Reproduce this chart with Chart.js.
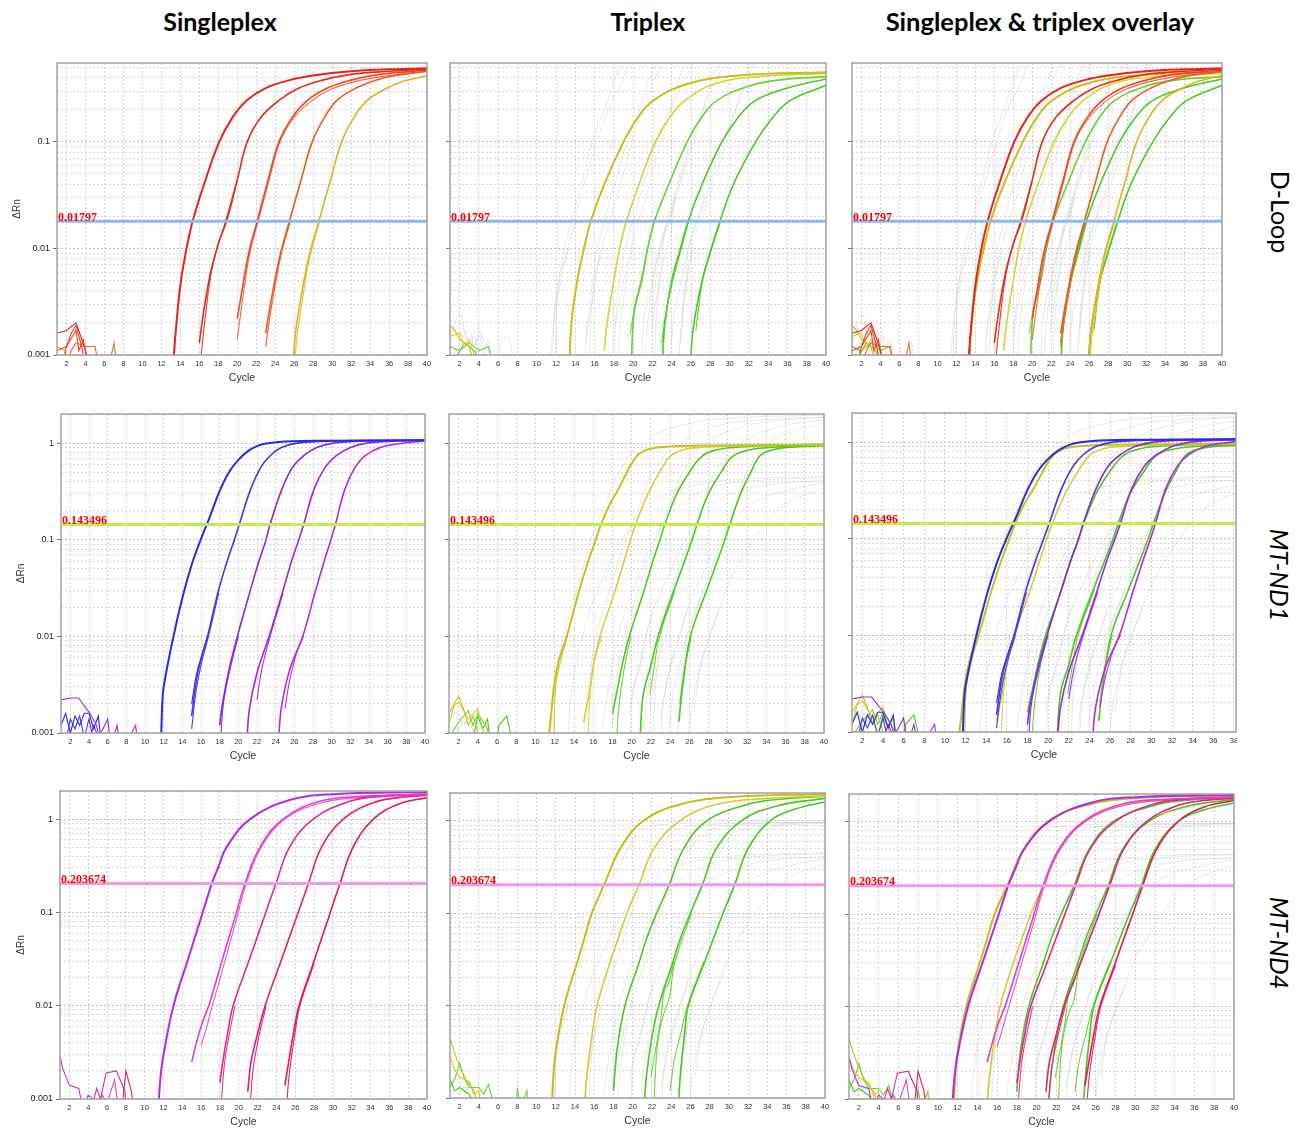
<!DOCTYPE html>
<html>
<head>
<meta charset="utf-8">
<title>Singleplex vs triplex amplification plots</title>
<script src="https://cdn.jsdelivr.net/npm/chart.js@4.4.1/dist/chart.umd.min.js"></script>
<style>
  body { margin: 0; width: 1295px; height: 1128px; background: #fff; position: relative; overflow: hidden; }
  .head { position: absolute; top: 6px; font: bold 25px Lato, sans-serif; color: #000; transform: translateX(-50%); white-space: nowrap; }
  .side { position: absolute; font: 25px Lato, sans-serif; color: #000; transform: translate(-50%, -50%) rotate(90deg); white-space: nowrap; }
  .side.it { font-style: italic; }
  canvas { position: absolute; }
</style>
</head>
<body>
<div class="head" style="left:220px">Singleplex</div>
<div class="head" style="left:648px">Triplex</div>
<div class="head" style="left:1040px;font-size:25.5px">Singleplex &amp; triplex overlay</div>
<div class="side" style="left:1281px;top:212px">D-Loop</div>
<div class="side it" style="left:1280px;top:575px">MT-ND1</div>
<div class="side it" style="left:1280px;top:943px">MT-ND4</div>
<script>
Chart.defaults.font.family = '"Liberation Sans", Arial, sans-serif'

// axis ticks
const cycleTicks = [2, 4, 6, 8, 10, 12, 14, 16, 18, 20, 22, 24, 26, 28, 30, 32, 34, 36, 38, 40]
const decadeTicks = [0.001, 0.01, 0.1, 1]
const dloopGrid = [0.001, 0.002, 0.003, 0.004, 0.005, 0.006, 0.007, 0.008, 0.009,
    0.01, 0.02, 0.03, 0.04, 0.05, 0.06, 0.07, 0.08, 0.09, 0.1, 0.2, 0.3, 0.4, 0.5]
const ndGrid = [0.001, 0.002, 0.003, 0.004, 0.005, 0.006, 0.007, 0.008, 0.009,
    0.01, 0.02, 0.03, 0.04, 0.05, 0.06, 0.07, 0.08, 0.09,
    0.1, 0.2, 0.3, 0.4, 0.5, 0.6, 0.7, 0.8, 0.9, 1, 2]

// thresholds
const dloopThreshold = 0.01797
const nd1Threshold = 0.143496
const nd4Threshold = 0.203674

// ---- D-Loop singleplex: 5 dilutions [cycle, dRn], then replicate traces ----
const dloopSingle = [
    [[13.2, 0.0007], [13.5, 0.0016], [14, 0.0045], [14.6, 0.0095], [15.3, 0.018], [16.5, 0.04], [18.1, 0.1], [19.5, 0.17], [21, 0.245], [23, 0.32], [25.5, 0.38], [28, 0.42], [32, 0.46], [36, 0.48], [40, 0.49]],
    [[16, 0.0013], [16.5, 0.0027], [17.2, 0.006], [18, 0.011], [18.8, 0.018], [20, 0.044], [21.05, 0.1], [22.5, 0.17], [24.4, 0.245], [26.5, 0.32], [29, 0.38], [32, 0.43], [36, 0.46], [40, 0.48]],
    [[20, 0.0022], [20.5, 0.004], [21.2, 0.009], [22.1, 0.018], [23.2, 0.042], [24.4, 0.1], [25.8, 0.17], [27.4, 0.245], [29.5, 0.32], [32, 0.38], [35, 0.43], [40, 0.47]],
    [[23, 0.0016], [23.5, 0.003], [24.5, 0.0085], [25.5, 0.018], [26.7, 0.043], [27.9, 0.1], [29.2, 0.17], [30.5, 0.245], [32.5, 0.32], [35, 0.39], [37.5, 0.43], [40, 0.46]],
    [[25.85, 0.0007], [26.1, 0.0015], [26.6, 0.003], [27.5, 0.008], [28.6, 0.018], [29.8, 0.043], [31, 0.1], [32.3, 0.17], [33.7, 0.245], [35.5, 0.31], [37.5, 0.37], [40, 0.42]],
    [[16.1, 0.0008], [16.5, 0.0018], [17.2, 0.0055], [18, 0.011], [18.9, 0.018], [20, 0.043]],
    [[20, 0.0014], [20.6, 0.0035], [21.3, 0.0088], [22.2, 0.018], [23.3, 0.042], [24.5, 0.1], [25.9, 0.165], [27.6, 0.235], [29.8, 0.31], [32.5, 0.37], [36, 0.42], [40, 0.46]],
    [[23, 0.0012], [23.6, 0.0028], [24.6, 0.0085], [25.6, 0.018]],
    [[26, 0.0007], [26.3, 0.0015], [26.8, 0.003], [27.6, 0.008], [28.7, 0.018]]
]
const dloopSingleColors = ['#e8221a', '#e42c1c', '#ec4626', '#ec5a1e', '#e2b022', '#e63a22', '#f06a48', '#ee6428', '#e8bc30']
const dloopSingleNoise = [
    [[1, 0.0016], [2, 0.0017], [3, 0.002], [3.5, 0.0015], [4, 0.0011], [4.4, 0.0008]],
    [[1, 0.0011], [2, 0.0012], [2.5, 0.0016], [3, 0.0019], [3.6, 0.0012], [4, 0.0008]],
    [[1.5, 0.0008], [2, 0.0012], [3, 0.0017], [3.3, 0.0011], [3.8, 0.0014], [4.2, 0.0008]],
    [[2, 0.0008], [2.5, 0.0011], [3, 0.0013], [4, 0.0012], [5, 0.0012], [5.4, 0.0008]],
    [[6.5, 0.0008], [7, 0.0013], [7.3, 0.0008]],
    [[1, 0.0012], [1.8, 0.0011], [2.4, 0.0008]]
]
const dloopSingleNoiseColors = ['#e8221a', '#ec3a20', '#f04a24', '#f06028', '#f07030', '#e0b020']

// ---- D-Loop triplex ----
const dloopTriplex = [
    [[13.35, 0.0007], [13.6, 0.002], [14.2, 0.005], [14.9, 0.01], [15.6, 0.018], [17, 0.04], [19, 0.1], [20.5, 0.17], [22.1, 0.245], [25.6, 0.35], [31, 0.42], [40, 0.45]],
    [[17, 0.0011], [17.3, 0.002], [18, 0.005], [18.6, 0.01], [19.3, 0.018], [20.6, 0.04], [22.3, 0.1], [23.8, 0.17], [25.4, 0.245], [28.4, 0.35], [33, 0.41], [40, 0.44]],
    [[19.8, 0.0008], [20.1, 0.0025], [20.9, 0.005], [21.5, 0.01], [22.2, 0.018], [23.7, 0.04], [25.6, 0.1], [27.1, 0.17], [28.7, 0.245], [31.8, 0.33], [35, 0.38], [40, 0.41]],
    [[23, 0.0008], [23.3, 0.002], [24, 0.005], [24.9, 0.01], [25.7, 0.018], [27.15, 0.04], [29.2, 0.1], [30.9, 0.17], [32.7, 0.245], [36, 0.32], [40, 0.39]],
    [[25.95, 0.0008], [26.2, 0.0017], [27.15, 0.005], [28.1, 0.01], [29, 0.018], [30.4, 0.04], [32.7, 0.1], [34.5, 0.17], [36.3, 0.245], [40, 0.34]],
    [[19.7, 0.0016], [20.2, 0.003], [20.9, 0.0055], [21.5, 0.01], [22.2, 0.018]],
    [[22.95, 0.0013], [23.4, 0.0025], [24.1, 0.005], [25, 0.01], [25.75, 0.018]],
    [[26.5, 0.0017], [27.2, 0.005], [28.15, 0.01], [29.05, 0.018]]
]
const dloopTriplexColors = ['#c8c018', '#d6d232', '#66d236', '#44cc20', '#44cc20', '#7ad84a', '#5ad034', '#5ad034']
const dloopTriplexNoise = [
    [[1, 0.0019], [1.5, 0.0017], [2, 0.0014], [3, 0.0012], [3.5, 0.0008]],
    [[1, 0.0015], [2, 0.0016], [2.5, 0.0012], [3, 0.0014], [3.8, 0.0008]],
    [[1, 0.0012], [2, 0.0011], [3, 0.0013], [4, 0.0011], [5, 0.0012], [5.4, 0.0008]],
    [[1.5, 0.0009], [2.5, 0.0013], [3.5, 0.0011], [4.5, 0.0008]]
]
const dloopTriplexNoiseColors = ['#c8c018', '#d6d232', '#6ad43a', '#44cc20']

// ---- MT-ND1 singleplex ----
const nd1Single = [
    [[11.7, 0.0007], [11.85, 0.002], [12, 0.003], [13, 0.0095], [14, 0.025], [15, 0.055], [16, 0.102], [17, 0.178], [18, 0.32], [19, 0.5], [20, 0.67], [21, 0.82], [22, 0.93], [23, 0.99], [25, 1.04], [30, 1.06], [40, 1.07]],
    [[15, 0.0015], [15.5, 0.0035], [16, 0.0058], [16.7, 0.01], [17.8, 0.028], [18.8, 0.06], [19.5, 0.095], [20.1, 0.1435], [21.3, 0.33], [22.4, 0.56], [23.4, 0.74], [24.6, 0.9], [26.3, 1.0], [30, 1.05], [40, 1.07]],
    [[18, 0.0012], [18.3, 0.002], [19, 0.0045], [19.9, 0.01], [21.2, 0.028], [22.2, 0.06], [22.9, 0.095], [23.4, 0.1435], [24.65, 0.33], [25.8, 0.56], [27, 0.74], [28.4, 0.9], [30.2, 1.0], [34, 1.05], [40, 1.07]],
    [[20.9, 0.0008], [21.2, 0.0018], [22, 0.0042], [23.3, 0.01], [24.7, 0.028], [25.7, 0.06], [26.4, 0.095], [27, 0.1435], [28.1, 0.33], [29.3, 0.56], [30.5, 0.74], [32, 0.9], [33.75, 1.0], [37, 1.05], [40, 1.07]],
    [[24.3, 0.0008], [24.6, 0.0018], [25.5, 0.0045], [26.9, 0.01], [28.2, 0.028], [29.2, 0.06], [29.85, 0.095], [30.4, 0.1435], [31.4, 0.33], [32.5, 0.56], [33.6, 0.74], [35.2, 0.9], [37, 0.98], [40, 1.05]],
    [[15, 0.0011], [15.5, 0.0028], [16.1, 0.0055], [16.8, 0.01], [17.9, 0.028]],
    [[15, 0.002], [15.5, 0.004], [16, 0.006], [16.7, 0.01]],
    [[18.1, 0.0008], [18.4, 0.002], [19.1, 0.0045], [20, 0.01]],
    [[22, 0.0022], [22.5, 0.0045], [23.4, 0.01], [24.8, 0.028]],
    [[25, 0.0018], [25.5, 0.0035], [26.3, 0.007], [27, 0.01]]
]
const nd1SingleColors = ['#2a2ae6', '#4a30e6', '#8626e6', '#9c26e6', '#b428e2', '#5a3ae8', '#3a30e6', '#9030e6', '#a630e6', '#b832e2']
const nd1SingleNoise = [
    [[1, 0.0022], [2, 0.0023], [2.9, 0.0023], [3.5, 0.0019], [4.1, 0.0016], [4.8, 0.0012], [5.2, 0.0008]],
    [[1, 0.0012], [1.5, 0.0016], [2, 0.001], [2.5, 0.0015], [3, 0.0012], [3.5, 0.0016], [4, 0.0016], [4.5, 0.0011], [5, 0.0015], [5.3, 0.0008]],
    [[1.5, 0.0008], [2, 0.0014], [2.5, 0.0011], [3, 0.0015], [3.5, 0.0009], [4, 0.0014], [4.5, 0.0008]],
    [[4, 0.0008], [4.5, 0.0012], [5, 0.0009], [5.5, 0.0011], [6, 0.0014], [6.3, 0.0008]],
    [[6.5, 0.0008], [7, 0.0012], [7.3, 0.0008]],
    [[8, 0.0008], [9, 0.0012], [9.2, 0.0008]]
]
const nd1SingleNoiseColors = ['#a028e2', '#2a2ae6', '#4040e8', '#8a28e6', '#9c26e6', '#b428e2']

// ---- MT-ND1 triplex ----
const nd1Triplex = [
    [[11.3, 0.0008], [11.6, 0.0015], [12, 0.0035], [12.5, 0.006], [13.25, 0.01], [14.55, 0.03], [15.5, 0.061], [16.2, 0.096], [16.8, 0.1435], [17.7, 0.23], [18.6, 0.33], [19.5, 0.5], [20.5, 0.73], [21.5, 0.85], [22.6, 0.9], [26, 0.94], [40, 0.96]],
    [[15, 0.0013], [15.7, 0.003], [16, 0.005], [16.7, 0.01], [18.3, 0.03], [19.2, 0.06], [19.8, 0.094], [20.4, 0.1435], [21.2, 0.23], [21.9, 0.33], [22.9, 0.5], [24, 0.73], [25.3, 0.85], [27, 0.9], [32, 0.94], [40, 0.96]],
    [[18, 0.0016], [18.4, 0.0025], [19, 0.005], [19.75, 0.01], [21.3, 0.03], [22.2, 0.06], [22.85, 0.094], [23.45, 0.1435], [24.2, 0.23], [24.9, 0.33], [26, 0.5], [27.3, 0.73], [28.8, 0.85], [30.5, 0.9], [34, 0.94], [40, 0.97]],
    [[20.85, 0.0008], [21.2, 0.0025], [22, 0.005], [22.75, 0.01], [24.4, 0.03], [25.5, 0.06], [26.2, 0.094], [26.8, 0.1435], [27.5, 0.23], [28.2, 0.33], [29.3, 0.5], [30.5, 0.73], [32.2, 0.85], [34.3, 0.9], [37, 0.94], [40, 0.96]],
    [[24.9, 0.0013], [25.3, 0.003], [26.1, 0.01], [27.8, 0.03], [28.9, 0.06], [29.6, 0.094], [30.2, 0.1435], [30.9, 0.23], [31.5, 0.33], [32.4, 0.5], [33.3, 0.73], [34.6, 0.85], [36.1, 0.9], [40, 0.94]],
    [[11.9, 0.0008], [12.1, 0.003], [12.6, 0.0055], [13.3, 0.01]],
    [[15.4, 0.0008], [15.8, 0.0035], [16.3, 0.0065], [16.9, 0.01]],
    [[18.4, 0.0008], [18.7, 0.002], [19.2, 0.0045], [19.9, 0.01]],
    [[21.9, 0.0025], [22.3, 0.0045], [22.9, 0.01], [24.5, 0.03]],
    [[25, 0.002], [25.4, 0.004], [26.2, 0.01]]
]
const nd1TriplexColors = ['#c8c01c', '#d2cf3a', '#4cc81e', '#4cc81e', '#4cc81e', '#d0c830', '#d8d44a', '#6ad43a', '#6ad43a', '#6ad43a']
const nd1TriplexNoise = [
    [[1, 0.0016], [2, 0.0024], [2.5, 0.0018], [3, 0.0012], [3.5, 0.0015], [4, 0.001], [4.5, 0.0008]],
    [[1, 0.0012], [1.5, 0.0019], [2, 0.0021], [3, 0.0014], [4, 0.0018], [4.5, 0.0011], [5, 0.0008]],
    [[1, 0.0009], [2, 0.0013], [3, 0.0017], [3.5, 0.0012], [4, 0.0016], [5, 0.0011], [5.2, 0.0008]],
    [[3.5, 0.0009], [4, 0.0015], [4.5, 0.0011], [5, 0.0014], [5.3, 0.0008]],
    [[6, 0.0009], [6.2, 0.0012], [7, 0.0015], [7.6, 0.0008]]
]
const nd1TriplexNoiseColors = ['#c8c01c', '#d2cf3a', '#6ad43a', '#4cc81e', '#4cc81e']

// ---- MT-ND4 singleplex ----
const nd4Single = [
    [[11.45, 0.0008], [11.7, 0.0018], [12, 0.003], [13.06, 0.01], [14.65, 0.0325], [15.4, 0.0566], [16.25, 0.106], [17.13, 0.2037], [17.9, 0.32], [18.7, 0.5], [21.2, 1.0], [25.4, 1.6], [30, 1.85], [40, 1.95]],
    [[15, 0.0025], [15.5, 0.004], [16.1, 0.0065], [16.8, 0.01], [18, 0.0255], [18.8, 0.0478], [19.6, 0.089], [20.66, 0.2037], [22.25, 0.5], [24.7, 1.0], [28.6, 1.55], [33, 1.75], [40, 1.85]],
    [[18, 0.0015], [18.3, 0.0025], [18.8, 0.005], [19.4, 0.01], [21, 0.0288], [22, 0.056], [23, 0.109], [23.95, 0.2037], [25.4, 0.5], [27.9, 1.0], [31.8, 1.55], [35, 1.75], [40, 1.85]],
    [[20.95, 0.0012], [21.3, 0.0025], [22, 0.005], [22.8, 0.01], [24.4, 0.0285], [25.3, 0.0515], [26.3, 0.099], [27.4, 0.2037], [28.8, 0.5], [31.1, 1.0], [34.3, 1.5], [37, 1.7], [40, 1.8]],
    [[24.9, 0.0014], [25.3, 0.0025], [25.8, 0.005], [26.4, 0.01], [27.9, 0.0282], [28.8, 0.0527], [29.7, 0.098], [30.75, 0.2037], [32.15, 0.5], [34.3, 1.0], [37, 1.45], [40, 1.7]],
    [[16, 0.0037], [16.5, 0.0055], [17, 0.0085], [18.2, 0.023], [19, 0.045], [19.8, 0.088], [20.8, 0.2037], [22.4, 0.5], [24.9, 1.0], [28.8, 1.5], [33, 1.7], [40, 1.8]],
    [[18.1, 0.0008], [18.5, 0.0025], [19, 0.005], [19.6, 0.01]],
    [[21.2, 0.0008], [21.5, 0.002], [22.1, 0.0045], [22.9, 0.01]],
    [[25.05, 0.0008], [25.4, 0.002], [25.9, 0.0045], [26.5, 0.01], [28, 0.0282]]
]
const nd4SingleColors = ['#b428e8', '#e040c8', '#e0288c', '#e01e78', '#e0185c', '#e858c8', '#e43a98', '#e42c84', '#e42a6a']
const nd4SingleNoise = [
    [[1, 0.0029], [1.3, 0.0021], [2, 0.0014], [3, 0.0013], [3.4, 0.0008]],
    [[4.5, 0.0009], [4.9, 0.0013], [5.3, 0.001], [5.9, 0.0019], [7, 0.002], [7.9, 0.0012], [8, 0.0008]],
    [[7.6, 0.0008], [8, 0.002], [8.6, 0.0012], [8.8, 0.0008]],
    [[5, 0.0008], [5.5, 0.0011], [6, 0.0009], [6.8, 0.0016], [7.2, 0.0008]],
    [[3.5, 0.0008], [4, 0.0011], [4.5, 0.001], [5, 0.0008]]
]
const nd4SingleNoiseColors = ['#c030e0', '#e02a8c', '#e01e78', '#e040c8', '#c030e0']

// ---- MT-ND4 triplex ----
const nd4Triplex = [
    [[11.6, 0.0008], [11.8, 0.002], [12, 0.0032], [12.88, 0.01], [14.26, 0.03], [15, 0.0545], [15.75, 0.1], [17.03, 0.2037], [18.7, 0.5], [21.1, 1.0], [24.9, 1.5], [30, 1.8], [40, 1.95]],
    [[15, 0.0009], [15.3, 0.002], [15.8, 0.005], [16.3, 0.01], [17.66, 0.03], [18.4, 0.05], [19.4, 0.1], [20.67, 0.2037], [22.2, 0.5], [24.9, 1.0], [28.7, 1.5], [34, 1.75], [40, 1.85]],
    [[18, 0.0012], [18.4, 0.0035], [19.2, 0.01], [20.7, 0.03], [21.5, 0.055], [22.5, 0.1], [23.8, 0.2037], [25.3, 0.5], [27.7, 1.0], [31.9, 1.5], [35, 1.7], [40, 1.85]],
    [[21.2, 0.0009], [21.5, 0.002], [22, 0.0045], [22.7, 0.01], [24.2, 0.03], [25, 0.055], [26, 0.1], [27.25, 0.2037], [28.7, 0.5], [31.3, 1.0], [35, 1.45], [40, 1.75]],
    [[24.75, 0.0009], [25, 0.002], [25.4, 0.005], [25.8, 0.01], [27.5, 0.03], [28.3, 0.05], [29.4, 0.1], [30.6, 0.2037], [32, 0.5], [34.3, 1.0], [37, 1.35], [40, 1.6]],
    [[22.2, 0.0009], [22.6, 0.004], [23.2, 0.008], [23.8, 0.012], [24.4, 0.03], [26.1, 0.1]],
    [[21.9, 0.0017], [22.3, 0.003], [22.9, 0.007], [23.3, 0.015], [23.7, 0.017], [24.3, 0.03]],
    [[23.9, 0.0012], [24.3, 0.0025], [25, 0.005], [25.7, 0.01], [27.4, 0.03]]
]
const nd4TriplexColors = ['#c8bc18', '#d0cc30', '#48c81e', '#48c81e', '#48c81e', '#6ad43a', '#6ad43a', '#6ad43a']
const nd4TriplexNoise = [
    [[1, 0.0045], [1.5, 0.003], [2, 0.0022], [2.6, 0.0016], [3.5, 0.0012], [4, 0.0008]],
    [[1, 0.0028], [1.5, 0.002], [2, 0.0017], [3, 0.0015], [3.5, 0.0011], [4, 0.0012], [4.2, 0.0008]],
    [[1, 0.0013], [1.5, 0.0016], [2, 0.0024], [2.5, 0.0016], [3, 0.0013], [4, 0.0013], [4.5, 0.0011], [5, 0.0014], [5.5, 0.0009], [6, 0.0008]],
    [[1, 0.0016], [1.5, 0.0012], [2, 0.0013], [3, 0.0011], [3.5, 0.0008]],
    [[7.9, 0.0008], [8, 0.0013], [8.3, 0.0008], [9, 0.0012], [9.1, 0.0008]]
]
const nd4TriplexNoiseColors = ['#c8bc18', '#d0cc30', '#6ad43a', '#48c81e', '#6ad43a']

// ---- building ----
function traces(list, colors, mainWidth) {
    return list.map(function (pts, i) {
        return {
            data: pts, borderColor: colors[i], borderWidth: i === 0 ? mainWidth + 0.4 : (i < 5 ? mainWidth : 1.1),
            pointRadius: 0, tension: 0.4, fill: false
        }
    })
}
function noise(list, colors) {
    return list.map(function (pts, i) {
        return { data: pts, borderColor: colors[i], borderWidth: 1.1, pointRadius: 0, tension: 0, fill: false }
    })
}
function grey(list) {
    return list.map(function (pts) {
        return { data: pts, borderColor: 'rgba(200,200,200,0.4)', borderWidth: 1, pointRadius: 0, tension: 0.4, fill: false }
    })
}
function thresholdLine(value, color) {
    return { data: [[1, value], [40, value]], borderColor: color, borderWidth: 3, pointRadius: 0, fill: false }
}

const frame = {
    id: 'frame',
    afterDraw(chart, args, opts) {
        const ctx = chart.ctx
        const a = chart.chartArea
        ctx.save()
        ctx.strokeStyle = '#a2a2a2'
        ctx.lineWidth = 1.5
        ctx.strokeRect(a.left, a.top, a.right - a.left, a.bottom - a.top)
        let y = chart.scales.y.getPixelForValue(opts.threshold)
        ctx.fillStyle = '#ff0000'
        ctx.font = 'bold 12px "Liberation Serif", "Times New Roman", serif'
        ctx.textBaseline = 'alphabetic'
        ctx.fillText(String(opts.threshold), a.left + 1, y - 0.5)
        ctx.restore()
    }
}

function panel(box, p) {
    let [l, t, r, b] = box
    let axisW = p.showY ? l : 8
    let padTop = 4, padRight = p.padRight, axisH = 32
    let w = (r - l) + axisW + padRight
    let h = (b - t) + padTop + axisH
    let c = document.createElement('canvas')
    c.width = w
    c.height = h
    c.style.left = (l - axisW) + 'px'
    c.style.top = (t - padTop) + 'px'
    c.style.width = w + 'px'
    c.style.height = h + 'px'
    document.body.appendChild(c)
    new Chart(c, {
        type: 'line',
        data: { datasets: p.sets },
        plugins: [frame],
        options: {
            responsive: false, animation: false, events: [],
            layout: { padding: { top: padTop, right: padRight, left: 0, bottom: 0 } },
            plugins: { legend: { display: false }, tooltip: { enabled: false }, frame: { threshold: p.threshold } },
            scales: {
                x: {
                    type: 'linear', min: 1, max: p.xmax,
                    afterBuildTicks: function (s) { s.ticks = cycleTicks.filter(v => v <= p.xmax).map(v => ({ value: v })) },
                    afterFit: function (s) { s.height = axisH; s.paddingLeft = 0; s.paddingRight = 0 },
                    ticks: { autoSkip: false, maxRotation: 0, padding: 4, color: '#333', font: { size: 7.5 } },
                    grid: { color: '#d0d0d0', lineWidth: 1, drawTicks: false },
                    border: { display: false, dash: [2, 2] },
                    title: { display: true, text: 'Cycle', color: '#333', font: { size: 10.5 }, padding: { top: 0, bottom: 2.4 } }
                },
                y: {
                    type: 'logarithmic', min: 0.001, max: p.ymax,
                    afterBuildTicks: function (s) { s.ticks = p.grid.map(v => ({ value: v })) },
                    afterFit: function (s) { s.width = axisW; s.paddingTop = 0; s.paddingBottom = 0 },
                    ticks: {
                        autoSkip: false, padding: 3, color: '#222', font: { size: 9 },
                        callback: v => (p.showY && decadeTicks.includes(v)) ? String(v) : ''
                    },
                    grid: {
                        color: ctx => decadeTicks.includes(ctx.tick && ctx.tick.value) ? '#c4c4c4' : '#d8d8d8',
                        lineWidth: 1, drawTicks: true, tickLength: 4,
                        tickColor: ctx => decadeTicks.includes(ctx.tick && ctx.tick.value) ? '#777' : 'rgba(0,0,0,0)'
                    },
                    border: { display: false, dash: [2, 2] },
                    title: { display: p.showY, text: 'ΔRn', color: '#333', font: { size: 10 }, padding: { top: p.yTitleX - 6, bottom: 0 } }
                }
            }
        }
    })
}

const boxes = [
    [57, 63, 427, 355], [450, 63, 826, 355], [852, 63, 1222, 355],
    [61, 414, 425, 733], [449, 414, 824, 733], [852, 413, 1236, 732],
    [60, 791, 427, 1099], [450, 793, 825, 1098], [849, 794, 1234, 1099]
]

const rowDefs = [
    {
        single: traces(dloopSingle, dloopSingleColors, 1.6).concat(noise(dloopSingleNoise, dloopSingleNoiseColors)),
        triplex: traces(dloopTriplex, dloopTriplexColors, 1.6).concat(noise(dloopTriplexNoise, dloopTriplexNoiseColors)),
        grey: grey(nd1Triplex.concat(nd4Triplex, nd1TriplexNoise)),
        threshold: dloopThreshold, thrColor: '#8cb8f2', ymax: 0.55, grid: dloopGrid, yTitleX: 17
    },
    {
        single: traces(nd1Single, nd1SingleColors, 1.6).concat(noise(nd1SingleNoise, nd1SingleNoiseColors)),
        triplex: traces(nd1Triplex, nd1TriplexColors, 1.6).concat(noise(nd1TriplexNoise, nd1TriplexNoiseColors)),
        grey: grey(dloopTriplex.concat(nd4Triplex, dloopTriplexNoise)),
        threshold: nd1Threshold, thrColor: '#c6ec4c', ymax: 2, grid: ndGrid, yTitleX: 21.5
    },
    {
        single: traces(nd4Single, nd4SingleColors, 1.6).concat(noise(nd4SingleNoise, nd4SingleNoiseColors)),
        triplex: traces(nd4Triplex, nd4TriplexColors, 1.6).concat(noise(nd4TriplexNoise, nd4TriplexNoiseColors)),
        grey: grey(dloopTriplex.concat(nd1Triplex, dloopTriplexNoise)),
        threshold: nd4Threshold, thrColor: '#f29ae6', ymax: 2, grid: ndGrid, yTitleX: 21
    }
]

rowDefs.forEach(function (row, i) {
    let thr = thresholdLine(row.threshold, row.thrColor)
    let common = { threshold: row.threshold, ymax: row.ymax, grid: row.grid, yTitleX: row.yTitleX }
    panel(boxes[i * 3], Object.assign({}, common, {
        sets: [thr].concat(row.single), showY: true, xmax: 40, padRight: 6
    }))
    panel(boxes[i * 3 + 1], Object.assign({}, common, {
        sets: [thr].concat(row.triplex, row.grey), showY: false, xmax: 40, padRight: 6
    }))
    panel(boxes[i * 3 + 2], Object.assign({}, common, {
        sets: [thr].concat(row.single, row.triplex, row.grey), showY: false,
        xmax: i === 1 ? 38.2 : 40, padRight: i === 1 ? 1 : 6
    }))
})
</script>
</body>
</html>
